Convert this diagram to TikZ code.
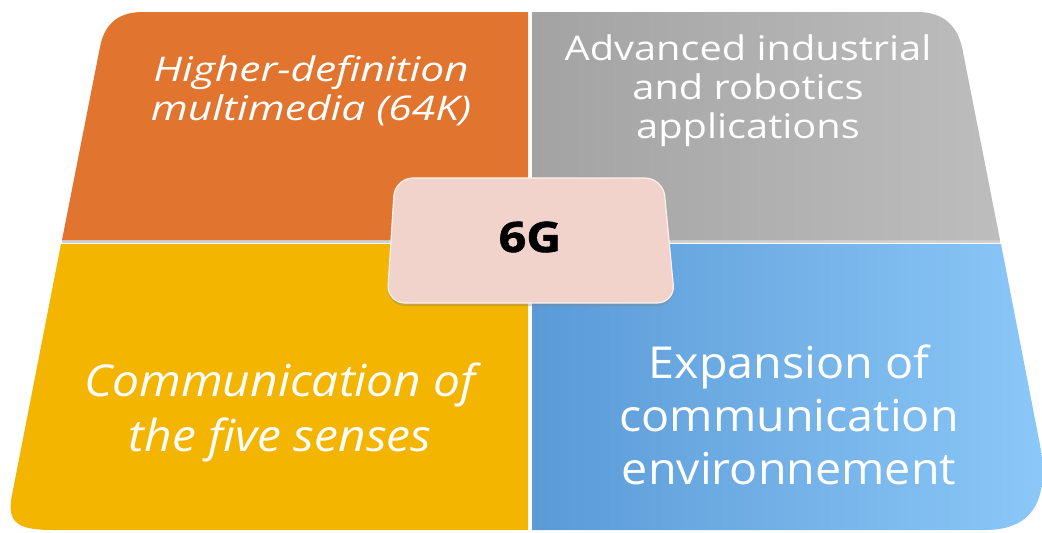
\documentclass[tikz,border=0pt]{standalone}
\usepackage{fontspec}
\setmainfont{Open Sans}
\newfontfamily\fontorange[FakeStretch=1.25]{Open Sans}
\newfontfamily\fontgray[FakeStretch=1.17]{Open Sans}
\newfontfamily\fontyellow[FakeStretch=1.09]{Open Sans}
\newfontfamily\fontblue[FakeStretch=1.06]{Open Sans}
\newfontfamily\fontsix[FakeStretch=1.15, BoldFeatures={FakeBold=1.5}]{Open Sans}
\usetikzlibrary{shadows}
\definecolor{orangeq}{HTML}{E1752F}
\definecolor{grayqa}{HTML}{A3A3A3}
\definecolor{grayqb}{HTML}{BDBDBD}
\definecolor{yellowq}{HTML}{F4B500}
\definecolor{blueqa}{HTML}{5A9AD6}
\definecolor{blueqb}{HTML}{8CC8F8}
\definecolor{pinkq}{HTML}{F2D3CC}
\begin{document}
\begin{tikzpicture}[x=0.5pt,y=-0.5pt,
  lbl/.style={text=white, align=center, inner sep=0pt}]
\useasboundingbox (0,0) rectangle (1042,532);
% quadrants
\fill[orangeq] (528,12) -- (143,12) .. controls (115,12) and (104,27) .. (100,47) -- (62,240) -- (528,240) -- cycle;
\shade[left color=grayqa, right color=grayqb] (532,12) -- (917,12) .. controls (945,12) and (957,27) .. (962,47) -- (1000,240) -- (532,240) -- cycle;
\fill[yellowq] (528,244) -- (61,244) -- (12,495) .. controls (6,525) and (20,530) .. (55,530) -- (528,530) -- cycle;
\shade[left color=blueqa, right color=blueqb] (532,244) -- (1001,244) -- (1040,445) .. controls (1048,490) and (1040,530) .. (985,530) -- (532,530) -- cycle;
% bevel line
\draw[black, opacity=0.18, line width=1.5pt] (62,241) -- (1000,241);
% labels
\node[lbl, font=\fontorange\fontsize{17}{19.5}\selectfont\itshape] (hd) at (311,91) {Higher-definition\\multimedia (64K)};
\node[lbl, font=\fontgray\fontsize{17}{19.5}\selectfont] (ai) at (748,91) {Advanced industrial\\and robotics\\applications};
\node[lbl, font=\fontyellow\fontsize{22}{27.5}\selectfont\itshape] (cf) at (280,412) {Communication of\\the five senses};
\node[lbl, font=\fontblue\fontsize{22}{26.5}\selectfont] (ec) at (789,415) {Expansion of\\communication\\environnement};
% centre
\path[fill=pinkq, draw=white!70!pinkq, line width=0.6pt, rounded corners=9pt,
  drop shadow={opacity=0.35, shadow xshift=0pt, shadow yshift=-1.5pt}]
  (395,178) -- (663,178) -- (675,303) -- (387,303) -- cycle;
\node[font=\fontsix\fontsize{21}{24}\selectfont\bfseries, text=black] (g) at (530,237) {6G};
\end{tikzpicture}
\end{document}
